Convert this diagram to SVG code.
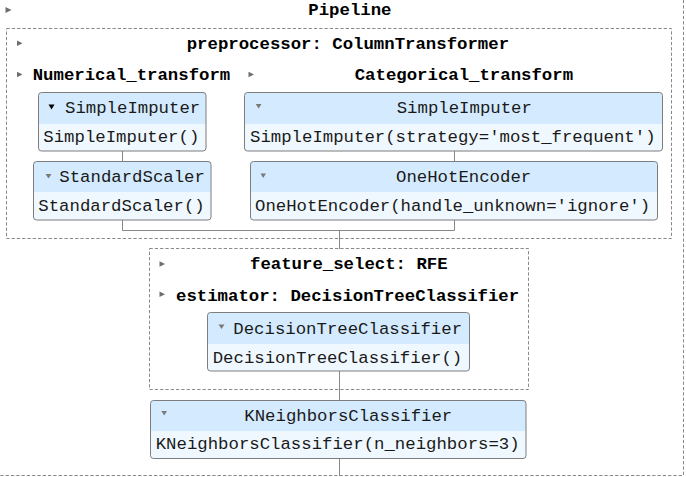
<svg xmlns="http://www.w3.org/2000/svg" width="686" height="477" viewBox="0 0 686 477">
<style>
text{font-family:"Liberation Mono","DejaVu Sans Mono",monospace;font-size:17.33px;fill:#1a1a1a}
.lbl{font-weight:bold;fill:#000}
.dash{fill:none;stroke:#8a8a8a;stroke-width:1;stroke-dasharray:3.3 2}
.body{fill:#f0f8ff;stroke:none}
.head{fill:#d4ebff;stroke:none}
.edge{fill:none;stroke:#7d7d7d;stroke-width:1}
.conn{fill:none;stroke:#888;stroke-width:1}
.tri{fill:#6e6e6e}
.tri2{fill:#7a7a7a}
</style>
<rect width="686" height="477" fill="#fff"/>
<g id="connectors">
<path class="conn" d="M122.5,151 V161.5"/>
<path class="conn" d="M454.5,151 V161.5"/>
<path class="conn" d="M122.5,220 V230.5 H454.5 V220"/>
<path class="conn" d="M339.5,230.5 V249"/>
<path class="conn" d="M339.5,371 V400.5"/>
<path class="conn" d="M339.5,458.5 V476"/>
</g>
<g id="pipeline">
<path class="dash" d="M683.5,0 V475.5 H0"/>
<polygon class="tri" points="5.5,7 11.5,10 5.5,13"/>
<text class="lbl" x="308.3" y="15">Pipeline</text>
</g>
<g id="preprocessor">
<rect class="dash" x="6.5" y="28.5" width="665" height="210"/>
<polygon class="tri" points="17,40.5 22.5,43.3 17,46"/>
<text class="lbl" x="186.7" y="49">preprocessor: ColumnTransformer</text>
</g>
<g id="numerical_transform">
<polygon class="tri" points="17,71.7 22.5,74.5 17,77.3"/>
<text class="lbl" x="32.7" y="80">Numerical_transform</text>
</g>
<g id="categorical_transform">
<polygon class="tri" points="248.5,71.8 254,74.5 248.5,77.3"/>
<text class="lbl" x="354.7" y="80">Categorical_transform</text>
</g>
<g id="num_simpleimputer">
<rect class="body" x="38.5" y="92.5" width="167.5" height="58.5" rx="3"/>
<path class="head" d="M38.5,124 V95.5 Q38.5,92.5 41.5,92.5 H203 Q206,92.5 206,95.5 V124 Z"/>
<rect class="edge" x="38.5" y="92.5" width="167.5" height="58.5" rx="3"/>
<polygon fill="#000" points="48.5,104.5 54.5,104.5 51.5,109.5"/>
<text x="65" y="113">SimpleImputer</text>
<text x="43.3" y="142">SimpleImputer()</text>
</g>
<g id="standardscaler">
<rect class="body" x="33.5" y="161.5" width="177.5" height="58.5" rx="3"/>
<path class="head" d="M33.5,192 V164.5 Q33.5,161.5 36.5,161.5 H208 Q211,161.5 211,164.5 V192 Z"/>
<rect class="edge" x="33.5" y="161.5" width="177.5" height="58.5" rx="3"/>
<polygon class="tri2" points="45.5,174 51.5,174 48.5,178.5"/>
<text x="59.3" y="182">StandardScaler</text>
<text x="38.3" y="211">StandardScaler()</text>
</g>
<g id="cat_simpleimputer">
<rect class="body" x="244.5" y="92.5" width="418" height="58.5" rx="3"/>
<path class="head" d="M244.5,124 V95.5 Q244.5,92.5 247.5,92.5 H659.5 Q662.5,92.5 662.5,95.5 V124 Z"/>
<rect class="edge" x="244.5" y="92.5" width="418" height="58.5" rx="3"/>
<polygon class="tri2" points="255.7,104 261.5,104 258.6,108.5"/>
<text x="396.7" y="113">SimpleImputer</text>
<text x="250" y="142">SimpleImputer(strategy='most_frequent')</text>
</g>
<g id="onehotencoder">
<rect class="body" x="250.5" y="161.5" width="407" height="58.5" rx="3"/>
<path class="head" d="M250.5,192 V164.5 Q250.5,161.5 253.5,161.5 H654.5 Q657.5,161.5 657.5,164.5 V192 Z"/>
<rect class="edge" x="250.5" y="161.5" width="407" height="58.5" rx="3"/>
<polygon class="tri2" points="260.5,173.5 266,173.5 263.2,178"/>
<text x="396" y="182">OneHotEncoder</text>
<text x="255" y="211">OneHotEncoder(handle_unknown='ignore')</text>
</g>
<g id="feature_select">
<rect class="dash" x="149.5" y="248.5" width="379" height="141"/>
<polygon class="tri" points="159.5,261.3 165,264 159.5,266.7"/>
<text class="lbl" x="250" y="269">feature_select: RFE</text>
</g>
<g id="estimator">
<polygon class="tri" points="159.5,291.5 165,294.2 159.5,297"/>
<text class="lbl" x="176" y="301">estimator: DecisionTreeClassifier</text>
</g>
<g id="decisiontreeclassifier">
<rect class="body" x="207.5" y="312.5" width="262" height="58.5" rx="3"/>
<path class="head" d="M207.5,344 V315.5 Q207.5,312.5 210.5,312.5 H466.5 Q469.5,312.5 469.5,315.5 V344 Z"/>
<rect class="edge" x="207.5" y="312.5" width="262" height="58.5" rx="3"/>
<polygon class="tri2" points="218.5,324.5 224.5,324.5 221.5,329"/>
<text x="233.3" y="333.5">DecisionTreeClassifier</text>
<text x="212.7" y="362.5">DecisionTreeClassifier()</text>
</g>
<g id="kneighborsclassifier">
<rect class="body" x="150.5" y="400.5" width="375.5" height="58" rx="3"/>
<path class="head" d="M150.5,431 V403.5 Q150.5,400.5 153.5,400.5 H523 Q526,400.5 526,403.5 V431 Z"/>
<rect class="edge" x="150.5" y="400.5" width="375.5" height="58" rx="3"/>
<polygon class="tri2" points="161.3,411 167,411 164.2,415.5"/>
<text x="244.3" y="420.5">KNeighborsClassifier</text>
<text x="155.7" y="449">KNeighborsClassifier(n_neighbors=3)</text>
</g>
</svg>
